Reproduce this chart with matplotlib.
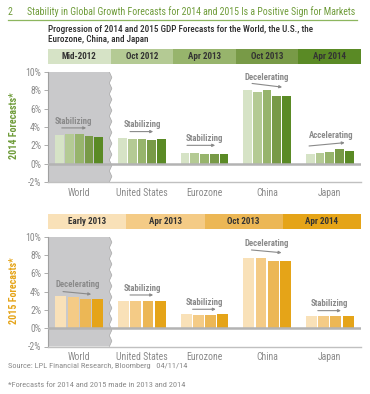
import matplotlib
matplotlib.use("Agg")
import matplotlib.pyplot as plt
from matplotlib import font_manager
import numpy as np

# ---------------- data ----------------
categories = ["World", "United States", "Eurozone", "China", "Japan"]
periods_2014 = ["Mid-2012", "Oct 2012", "Apr 2013", "Oct 2013", "Apr 2014"]
periods_2015 = ["Early 2013", "Apr 2013", "Oct 2013", "Apr 2014"]
forecast_2014 = {
    "World":         [3.1, 3.2, 3.2, 3.0, 2.9],
    "United States": [2.8, 2.7, 2.7, 2.6, 2.7],
    "Eurozone":      [1.2, 1.2, 1.0, 1.0, 1.1],
    "China":         [8.0, 7.8, 8.0, 7.4, 7.4],
    "Japan":         [1.0, 1.2, 1.3, 1.6, 1.4],
}
forecast_2015 = {
    "World":         [3.5, 3.4, 3.2, 3.2],
    "United States": [3.0, 3.0, 3.0, 3.0],
    "Eurozone":      [1.5, 1.4, 1.4, 1.5],
    "China":         [7.7, 7.7, 7.3, 7.3],
    "Japan":         [1.3, 1.3, 1.3, 1.3],
}
trend_2014 = ["Stabilizing", "Stabilizing", "Stabilizing", "Decelerating", "Accelerating"]
trend_2015 = ["Decelerating", "Stabilizing", "Stabilizing", "Decelerating", "Stabilizing"]
yticks = [-2, 0, 2, 4, 6, 8, 10]

# ---------------- style ----------------
names = {f.name for f in font_manager.fontManager.ttflist}
FAM = [f for f in ["Roboto Condensed", "Archivo Narrow", "PT Sans Narrow",
                   "Liberation Sans Narrow", "Liberation Sans"] if f in names] + ["DejaVu Sans"]
plt.rcParams["font.family"] = FAM

greens = ["#d6e3c6", "#b4ca94", "#97b46c", "#789a47", "#5a8a25"]
oranges = ["#f9e1b8", "#f4cb86", "#ecb755", "#e5a418"]
GREEN_T = "#6f9c3a"
ORANGE_T = "#e5a418"
GRAY_TXT = "#8a8a8a"
PANEL = "#c9c9cb"

W, H = 370, 394
fig = plt.figure(figsize=(W / 100, H / 100), dpi=100)
fig.patch.set_facecolor("white")


def fy(y):
    return 1 - y / H


def fit_text(t, target_px):
    fig.canvas.draw()
    r = fig.canvas.get_renderer()
    w = t.get_window_extent(renderer=r).width
    t.set_fontsize(t.get_fontsize() * target_px / w)


# title
tt = fig.text(27 / W, fy(12), "Stability in Global Growth Forecasts for 2014 and 2015 Is a Positive Sign for Markets",
              color=GREEN_T, fontsize=8, va="center", ha="left")
fit_text(tt, 330)
fig.text(8 / W, fy(12), "2", color=GREEN_T, fontsize=tt.get_fontsize(), va="center", ha="left")
fig.add_artist(plt.Line2D([8 / W, 357 / W], [fy(19.5), fy(19.5)], color="#8db65f", lw=0.9))

s1 = fig.text(48 / W, fy(29.5), "Progression of 2014 and 2015 GDP Forecasts for the World, the U.S., the",
              color="#2e2e2e", fontsize=6.5, va="center", ha="left", fontweight="medium")
fit_text(s1, 265)
s2 = fig.text(48 / W, fy(39), "Eurozone, China, and Japan", color="#2e2e2e",
              fontsize=s1.get_fontsize(), va="center", ha="left", fontweight="medium")


def header(y0, y1, labels, colors):
    hax = fig.add_axes([48 / W, fy(y1), 313 / W, (y1 - y0) / H])
    n = len(labels)
    hax.barh([0], [1] * n, left=np.arange(n), height=1, color=colors, edgecolor="none")
    hax.set_xlim(0, n)
    hax.set_ylim(-0.5, 0.5)
    hax.axis("off")
    for i, lab in enumerate(labels):
        hax.text(i + 0.5, 0, lab, ha="center", va="center", fontsize=6.5,
                 fontweight="bold", color="#333333")


header(49, 64, periods_2014, greens)
header(214, 229, periods_2015, oranges)


def panel(ax, data, colors, trends, ann, ylabel, ycolor, ylab_y):
    n = len(colors)
    slot = 0.78 / n
    x = np.arange(len(categories))
    ax.set_xlim(-0.5, len(categories) - 0.5)
    ax.set_ylim(-2, 10)
    # gray panel with zigzag right edge
    ys = np.arange(10, -2.0001, -0.6)
    zx = 0.5 + np.where(np.arange(len(ys)) % 2 == 0, -0.02, 0.02)
    px = np.concatenate([[-0.5], zx, [zx[-1]], [-0.5]])
    py = np.concatenate([[10], ys, [-2], [-2]])
    ax.fill(px, py, color=PANEL, lw=0, zorder=0)
    ax.plot(zx, ys, color="#a8a8a8", lw=0.5, zorder=1)
    for j in range(n):
        vals = [data[c][j] for c in categories]
        ax.bar(x + (j - (n - 1) / 2) * slot, vals, width=slot * 0.9,
               color=colors[j], edgecolor="none", zorder=2)
    ax.axhline(0, color="#b3b3b3", lw=1.8, zorder=3)
    for s in ["top", "right"]:
        ax.spines[s].set_visible(False)
    ax.spines["left"].set_color("#a0a0a0")
    ax.spines["left"].set_linewidth(0.8)
    ax.spines["bottom"].set_color("#c0c0c0")
    ax.spines["bottom"].set_linewidth(1.0)
    ax.set_yticks(yticks)
    ax.set_yticklabels([f"{v}%" for v in yticks])
    ax.tick_params(axis="y", colors="#a0a0a0", labelcolor=GRAY_TXT, labelsize=7,
                   length=3, width=0.6, pad=2)
    ax.set_xticks(x)
    ax.set_xticklabels(categories)
    ax.tick_params(axis="x", length=0, labelcolor=GRAY_TXT, labelsize=7, pad=4)
    ax.set_facecolor("none")
    for lab, (tx, ty, x0, y0, x1, y1) in zip(trends, ann):
        ax.text(tx, ty, lab, ha="center", va="center", fontsize=6.3, fontweight="bold",
                color=GRAY_TXT, zorder=5)
        ax.annotate("", xy=(x1, y1), xytext=(x0, y0),
                    arrowprops=dict(arrowstyle="-|>", color="#8a8a8a", lw=0.8,
                                    mutation_scale=4, shrinkA=0, shrinkB=0), zorder=5)
    fig.text(14 / W, fy(ylab_y), ylabel, rotation=90, ha="center", va="center",
             color=ycolor, fontweight="bold", fontsize=7.2)


ax1 = fig.add_axes([48 / W, fy(182), 313 / W, 110 / H])
ann1 = [(-0.09, 4.6, -0.28, 3.9, 0.11, 3.9),
        (1.0, 4.25, 0.81, 3.5, 1.18, 3.5),
        (2.0, 2.75, 1.72, 2.0, 2.17, 2.0),
        (3.0, 9.4, 2.76, 8.75, 3.24, 8.35),
        (4.02, 3.1, 3.67, 1.93, 4.24, 2.29)]
panel(ax1, forecast_2014, greens, trend_2014, ann1, "2014 Forecasts*", GREEN_T, 126)

ax2 = fig.add_axes([48 / W, fy(346.5), 313 / W, 109.8 / H])
ann2 = [(-0.02, 4.73, -0.26, 4.0, 0.19, 3.71),
        (1.0, 4.37, 0.81, 3.63, 1.18, 3.63),
        (2.0, 2.84, 1.81, 2.07, 2.18, 2.07),
        (3.0, 9.28, 2.75, 8.55, 3.23, 8.25),
        (4.0, 2.73, 3.81, 1.92, 4.18, 1.92)]
panel(ax2, forecast_2015, oranges, trend_2015, ann2, "2015 Forecasts*", ORANGE_T, 291)

f1 = fig.text(8 / W, fy(366), "Source: LPL Financial Research, Bloomberg   04/11/14",
              color=GRAY_TXT, fontsize=6.5, va="center", ha="left")
fit_text(f1, 178)
f2 = fig.text(8 / W, fy(385), "*Forecasts for 2014 and 2015 made in 2013 and 2014",
              color=GRAY_TXT, fontsize=f1.get_fontsize(), va="center", ha="left")

fig.savefig("out.png", dpi=100, facecolor="white")
